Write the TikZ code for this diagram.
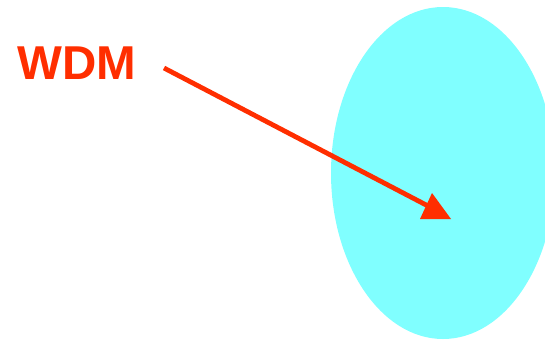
\documentclass[tikz,border=0pt]{standalone}
\usepackage{fontspec}
\setmainfont{Liberation Sans}
\definecolor{cyanfill}{HTML}{80FFFF}
\definecolor{wdmred}{HTML}{FF2E00}
\begin{document}
\begin{tikzpicture}[x=1pt,y=-1pt,
  label/.style={font=\fontsize{47.5}{47.5}\selectfont\bfseries, text=wdmred, inner sep=0pt, anchor=base west},
  connector/.style={draw=wdmred, line width=4.8pt},
  tiphead/.style={fill=wdmred}]
\useasboundingbox (0,0) rectangle (545,341);
\begin{scope}
\clip (0,0) rectangle (545,341);
\fill[cyanfill] (443,173) ellipse [x radius=112, y radius=166];
\end{scope}
\node[label] (wdm) at (17,79) {WDM};
\coordinate (start) at (164,68);
\coordinate (tip) at (430,207);
\draw[connector] (start) -- (tip);
\fill[tiphead] (432,193) -- (451,219) -- (420,219) -- cycle;
\end{tikzpicture}
\end{document}
